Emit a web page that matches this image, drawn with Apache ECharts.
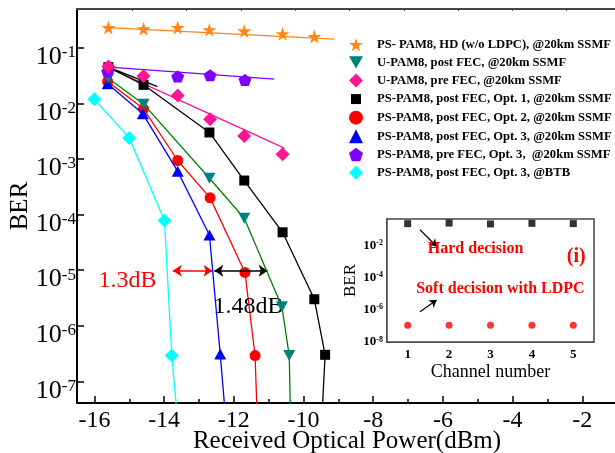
<!DOCTYPE html>
<html>
<head>
<meta charset="utf-8">
<script src="https://cdn.jsdelivr.net/npm/echarts@6/dist/echarts.min.js"></script>
<style>
html, body { margin: 0; padding: 0; background: #fff; }
#chart { width: 615px; height: 453px; }
</style>
</head>
<body>
<div id="chart"></div>
<script>
// values: received optical power (dBm) and BER
const starX = [-15.6, -14.59, -13.61, -12.7, -11.7, -10.6, -9.69];
const starBer = [0.232, 0.22, 0.232, 0.211, 0.202, 0.179, 0.16];
const starFitX = [-15.6, -9.12];
const starFitBer = [0.232, 0.143];

const uPostX = [-15.6, -14.59, -12.7, -11.7, -10.62, -10.41, -10.36];
const uPostBer = [0.0285, 0.0097, 4.5e-4, 8.6e-5, 2.2e-6, 2.9e-7, 1e-8];

const uPreX = [-15.6, -14.59, -13.61, -12.68, -11.7, -10.6];
const uPreBer = [0.046, 0.031, 0.0139, 0.0052, 0.0026, 0.00122];
const uPreFitX = [-15.71, -10.55];
const uPreFitBer = [0.0474, 0.00157];

const opt1X = [-15.6, -14.59, -12.7, -11.7, -10.6, -9.69, -9.38, -9.5];
const opt1Ber = [0.045, 0.0216, 0.003, 4.1e-4, 4.8e-5, 3.0e-6, 3.0e-7, 1e-8];
const opt1FitX = [-15.6, -14.19];
const opt1FitBer = [0.045, 0.0201];

const opt2X = [-15.62, -14.59, -13.61, -12.68, -11.68, -11.39, -11.31];
const opt2Ber = [0.0248, 0.008, 9.4e-4, 2.0e-4, 9.1e-6, 2.9e-7, 1e-8];

const opt3X = [-15.62, -14.61, -13.61, -12.7, -12.39, -12.19];
const opt3Ber = [0.0225, 0.0065, 6.0e-4, 4.3e-5, 3.1e-7, 1e-8];

const opt3PreX = [-15.62, -13.61, -12.68, -11.68];
const opt3PreBer = [0.0375, 0.0305, 0.032, 0.0265];
const opt3PreFitX = [-15.76, -10.84];
const opt3PreFitBer = [0.0461, 0.0274];

const btbX = [-16.0, -15.0, -13.99, -13.78, -13.57];
const btbBer = [0.0119, 0.0024, 7.8e-5, 2.9e-7, 1e-8];

// inset
const channels = [1, 2, 3, 4, 5];
const hardBer = [0.23, 0.25, 0.22, 0.24, 0.23];
const softBer = [1.1e-7, 1.1e-7, 1.1e-7, 1.1e-7, 1.1e-7];

// annotations
const gapRedX = [-13.75, -12.61];
const gapBlackX = [-12.56, -11.03];
const gapBer = 9.8e-6;

const xLabels = [-16, -14, -12, -10, -8, -6, -4, -2];
const yLabels = [-7, -6, -5, -4, -3, -2, -1];
const insetXLabels = [1, 2, 3, 4, 5];
const insetYLabels = [-8, -6, -4, -2];

const names = [
  'PS- PAM8, HD (w/o LDPC), @20km SSMF',
  'U-PAM8, post FEC, @20km SSMF',
  'U-PAM8, pre FEC, @20km SSMF',
  'PS-PAM8, post FEC, Opt. 1, @20km SSMF',
  'PS-PAM8, post FEC, Opt. 2, @20km SSMF',
  'PS-PAM8, post FEC, Opt. 3, @20km SSMF',
  'PS-PAM8, pre FEC, Opt. 3,  @20km SSMF',
  'PS-PAM8, post FEC, Opt. 3, @BTB'
];

const FONT = "'Liberation Serif', 'Times New Roman', serif";
const STAR = 'path://M50,0 L61,35 L98,35 L68,57 L79,91 L50,70 L21,91 L32,57 L2,35 L39,35 Z';
const PENTA = 'path://M50,0 L98,35 L79,91 L21,91 L2,35 Z';
const TRI_DOWN = 'path://M0,0 L100,0 L50,87 Z';
// smaller square for the legend (empty moves pad the box)
const SMALL_RECT = 'path://M0,0 M14,14 M2,2 L12,2 L12,12 L2,12 Z';

const Y_MIN = -7.39, Y_MAX = -0.301;

function pts(xs, bers) {
  return xs.map((x, i) => {
    const y = Math.log10(bers[i]);
    return y < Y_MIN ? { value: [x, y], symbol: 'none' } : [x, y];
  });
}

const yMinor = [];
for (let n = -8; n <= -1; n++) {
  for (let k = 2; k <= 9; k++) {
    const v = n + Math.log10(k);
    if (v > Y_MIN && v < Y_MAX) yMinor.push(v);
  }
}
const xMinor = [];
for (let v = -15; v <= -1; v += 2) xMinor.push(v);

let chart = echarts.init(document.getElementById('chart'));

function curve(name, xs, bers, color, lineColor, symbol, size, z) {
  return {
    name: name, type: 'line', xAxisIndex: 0, yAxisIndex: 0,
    data: pts(xs, bers), symbol: symbol, symbolSize: size, showSymbol: true,
    itemStyle: { color: color }, lineStyle: { color: lineColor, width: 1.3 },
    z: z, clip: true
  };
}
function dots(name, xs, bers, color, symbol, size, z) {
  return {
    name: name, type: 'scatter', xAxisIndex: 0, yAxisIndex: 0,
    data: pts(xs, bers), symbol: symbol, symbolSize: size,
    itemStyle: { color: color, opacity: 1 }, z: z
  };
}
function fit(xs, bers, color) {
  return {
    type: 'line', xAxisIndex: 0, yAxisIndex: 0, data: pts(xs, bers),
    symbol: 'none', lineStyle: { color: color, width: 1.3 }, silent: true, z: 2
  };
}

let option = {
  animation: false,
  backgroundColor: '#fff',
  grid: [
    { left: 77, top: 9, width: 575, height: 394, outerBoundsMode: 'none' },
    { left: 387, top: 219, width: 207, height: 123, show: true, backgroundColor: '#fff',
      borderColor: '#444', borderWidth: 1.5, z: 5, outerBoundsMode: 'none' }
  ],
  legend: {
    orient: 'vertical', left: 349, top: 38, padding: 0,
    itemWidth: 14, itemHeight: 14, itemGap: 4.6,
    selectedMode: false,
    textStyle: { fontFamily: FONT, fontWeight: 'bold', fontSize: 12.6, color: '#000', padding: [0, 0, 0, 9] },
    data: [
      { name: names[0], icon: STAR },
      { name: names[1], icon: TRI_DOWN },
      { name: names[2], icon: 'diamond' },
      { name: names[3], icon: SMALL_RECT },
      { name: names[4], icon: 'circle' },
      { name: names[5], icon: 'triangle' },
      { name: names[6], icon: PENTA },
      { name: names[7], icon: 'diamond' }
    ]
  },
  xAxis: [
    {
      type: 'value', gridIndex: 0, min: -16.5, max: 0, position: 'bottom',
      axisLine: { show: true, onZero: false, lineStyle: { color: '#000', width: 2 } },
      axisTick: { show: true, inside: true, length: 7, customValues: xLabels, lineStyle: { color: '#000', width: 1.5 } },
      axisLabel: { customValues: xLabels, fontFamily: FONT, fontSize: 24, color: '#000', margin: 6 },
      splitLine: { show: false },
      name: 'Received Optical Power(dBm)', nameLocation: 'middle', nameGap: 26, nameMoveOverlap: false,
      nameTextStyle: { fontFamily: FONT, fontSize: 25, color: '#000', padding: [0, 35, 0, 0] }
    },
    {
      type: 'value', gridIndex: 0, min: -16.5, max: 0, position: 'bottom',
      axisLine: { show: false },
      axisTick: { show: true, inside: true, length: 4, customValues: xMinor, lineStyle: { color: '#000', width: 1.5 } },
      axisLabel: { show: false }, splitLine: { show: false }
    },
    {
      type: 'value', gridIndex: 0, min: -1.018, max: 9.57, position: 'top',
      axisLine: { show: true, onZero: false, lineStyle: { color: '#444', width: 2 } },
      axisTick: { show: true, inside: true, length: 2, customValues: [0, 1, 2, 3, 4, 5, 6, 7, 8, 9], lineStyle: { color: '#444' } },
      axisLabel: { show: false }, splitLine: { show: false }
    },
    {
      type: 'value', gridIndex: 1, min: 0.5, max: 5.5,
      axisLine: { show: true, onZero: false, lineStyle: { color: '#444', width: 1.5 } },
      axisTick: { show: true, inside: true, length: 4, customValues: [1, 1.5, 2, 2.5, 3, 3.5, 4, 4.5, 5], lineStyle: { color: '#444' } },
      axisLabel: { customValues: insetXLabels, fontFamily: FONT, fontWeight: 'bold', fontSize: 13, color: '#000', margin: 6 },
      splitLine: { show: false },
      name: 'Channel number', nameLocation: 'middle', nameGap: 21, nameMoveOverlap: false,
      nameTextStyle: { fontFamily: FONT, fontSize: 18, color: '#000' }
    }
  ],
  yAxis: [
    {
      type: 'value', gridIndex: 0, min: Y_MIN, max: Y_MAX,
      axisLine: { show: true, onZero: false, lineStyle: { color: '#000', width: 2 } },
      axisTick: { show: true, inside: true, length: 7, customValues: yLabels, lineStyle: { color: '#000', width: 1.5 } },
      axisLabel: {
        customValues: yLabels, margin: 1, padding: [19, 0, 0, 0],
        formatter: v => '{b|10}{s|' + v + '}',
        rich: {
          b: { fontFamily: FONT, fontSize: 26, color: '#000' },
          s: { fontFamily: FONT, fontSize: 17, color: '#000', verticalAlign: 'top', lineHeight: 17 }
        }
      },
      splitLine: { show: false },
      name: 'BER', nameLocation: 'middle', nameGap: 44, nameMoveOverlap: false,
      nameTextStyle: { fontFamily: FONT, fontSize: 25, color: '#000' }
    },
    {
      type: 'value', gridIndex: 0, min: Y_MIN, max: Y_MAX,
      axisLine: { show: false },
      axisTick: { show: true, inside: true, length: 4, customValues: yMinor, lineStyle: { color: '#000', width: 1.2 } },
      axisLabel: { show: false }, splitLine: { show: false }
    },
    {
      type: 'value', gridIndex: 1, min: -8, max: -0.35,
      axisLine: { show: true, onZero: false, lineStyle: { color: '#444', width: 1.5 } },
      axisTick: { show: true, inside: true, length: 4, customValues: [-8, -7, -6, -5, -4, -3, -2, -1], lineStyle: { color: '#444' } },
      axisLabel: {
        customValues: insetYLabels, margin: 4,
        formatter: v => '{b|10}{s|' + v + '}',
        rich: {
          b: { fontFamily: FONT, fontSize: 13, fontWeight: 'bold', color: '#000' },
          s: { fontFamily: FONT, fontSize: 8, fontWeight: 'bold', color: '#000', verticalAlign: 'top', lineHeight: 8 }
        }
      },
      splitLine: { show: false },
      name: 'BER', nameLocation: 'middle', nameGap: 28, nameMoveOverlap: false,
      nameTextStyle: { fontFamily: FONT, fontSize: 17, color: '#000' }
    }
  ],
  series: [
    fit(starFitX, starFitBer, '#FF8515'),
    fit(uPreFitX, uPreFitBer, '#FF1493'),
    fit(opt3PreFitX, opt3PreFitBer, '#8000FF'),
    fit(opt1FitX, opt1FitBer, '#000'),
    curve(names[7], btbX, btbBer, '#00FFFF', '#00FFFF', 'diamond', [14, 14], 3),
    curve(names[3], opt1X, opt1Ber, '#000', '#000', 'rect', [10, 10], 3),
    curve(names[4], opt2X, opt2Ber, '#FF0000', '#FF0000', 'circle', [11, 11], 4),
    curve(names[5], opt3X, opt3Ber, '#0000FF', '#0000FF', 'triangle', [12, 11], 5),
    curve(names[1], uPostX, uPostBer, '#008080', '#008000', TRI_DOWN, [12, 11], 6),
    dots(names[6], opt3PreX, opt3PreBer, '#8000FF', PENTA, [13, 12], 7),
    dots(names[2], uPreX, uPreBer, '#FF1493', 'diamond', [14, 14], 8),
    dots(names[0], starX, starBer, '#FF8515', STAR, [14, 14], 8),
    {
      type: 'scatter', xAxisIndex: 0, yAxisIndex: 0, data: [], silent: true,
      markLine: {
        silent: true, symbol: ['arrow', 'arrow'], symbolSize: 9, label: { show: false },
        data: [
          [{ coord: [gapRedX[0], Math.log10(gapBer)], lineStyle: { color: '#FF0000', width: 1.5, type: 'solid' } },
           { coord: [gapRedX[1], Math.log10(gapBer)] }],
          [{ coord: [gapBlackX[0], Math.log10(gapBer)], lineStyle: { color: '#000', width: 1.5, type: 'solid' } },
           { coord: [gapBlackX[1], Math.log10(gapBer)] }]
        ]
      },
      markPoint: {
        silent: true, symbol: 'circle', symbolSize: 1, itemStyle: { color: 'rgba(0,0,0,0)' },
        data: [
          { coord: [-15.05, -5.19], label: { show: true, position: 'inside', formatter: '1.3dB', color: '#FF0000', fontFamily: FONT, fontSize: 24 } },
          { coord: [-11.58, -5.66], label: { show: true, position: 'inside', formatter: '1.48dB', color: '#000', fontFamily: FONT, fontSize: 24 } }
        ]
      }
    },
    {
      type: 'scatter', xAxisIndex: 3, yAxisIndex: 2, z: 10,
      data: channels.map((c, i) => [c, Math.log10(hardBer[i])]),
      symbol: 'rect', symbolSize: 7, itemStyle: { color: '#000' }
    },
    {
      type: 'scatter', xAxisIndex: 3, yAxisIndex: 2, z: 10,
      data: channels.map((c, i) => [c, Math.log10(softBer[i])]),
      symbol: 'circle', symbolSize: 7, itemStyle: { color: '#FF0000' },
      markLine: {
        silent: true, symbol: ['none', 'arrow'], symbolSize: 7, label: { show: false },
        lineStyle: { color: '#000', width: 1.2, type: 'solid' },
        data: [
          [{ coord: [1.297, -1.02] }, { coord: [1.70, -2.06] }],
          [{ coord: [1.297, -6.125] }, { coord: [1.70, -5.39] }]
        ]
      },
      markPoint: {
        silent: true, symbol: 'circle', symbolSize: 1, itemStyle: { color: 'rgba(0,0,0,0)' },
        label: { show: true, position: 'inside', color: '#FF0000', fontFamily: FONT, fontWeight: 'bold', fontSize: 16 },
        data: [
          { coord: [2.64, -2.21], label: { formatter: 'Hard decision' } },
          { coord: [5.07, -2.69], label: { formatter: '(i)', fontSize: 20 } },
          { coord: [3.24, -4.71], label: { formatter: 'Soft decision with LDPC' } }
        ]
      }
    }
  ]
};
chart.setOption(option);
</script>
</body>
</html>
